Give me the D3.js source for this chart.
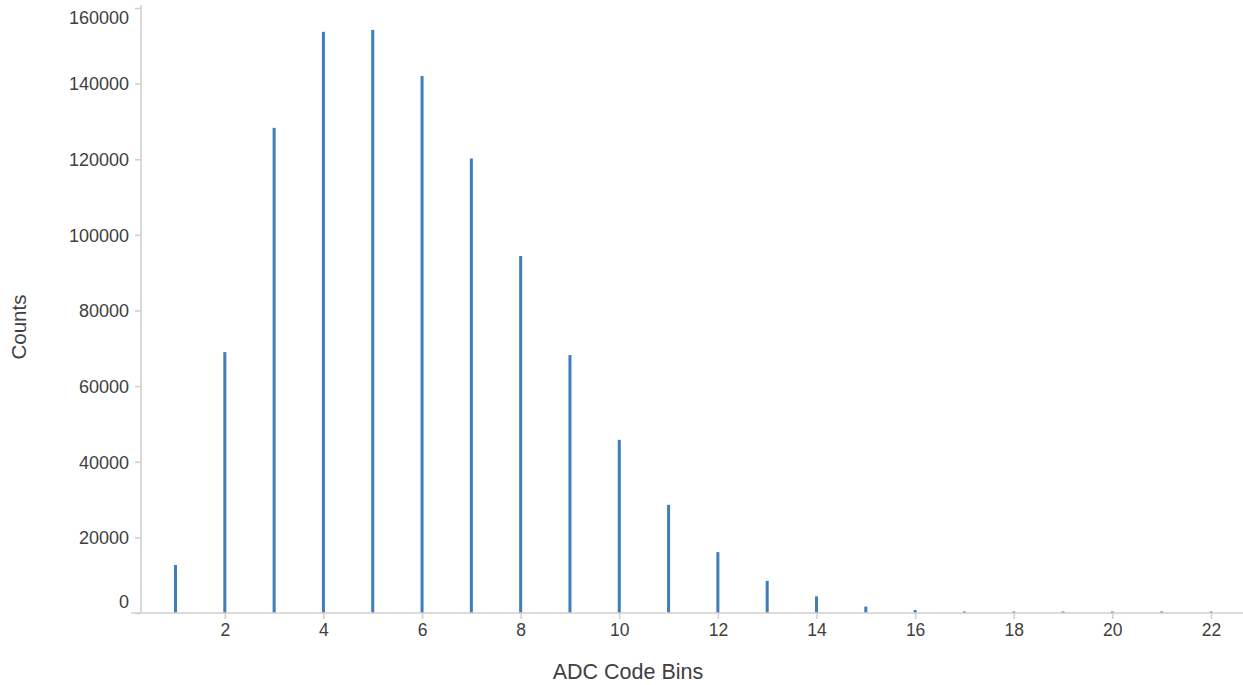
<!DOCTYPE html>
<html>
<head>
<meta charset="utf-8">
<script src="https://cdn.jsdelivr.net/npm/d3@7"></script>
<style>
html,body{margin:0;padding:0;background:#fff;}
svg{display:block;}
text{font-family:"Liberation Sans",Arial,sans-serif;}
</style>
</head>
<body>
<svg id="chart" width="1243" height="685"></svg>
<script>
const bins = [1,2,3,4,5,6,7,8,9,10,11,12,13,14,15,16,17,18,19,20,21,22];
const counts = [12700,69000,128300,153700,154200,142000,120200,94400,68200,45800,28600,16100,8500,4400,1700,800,400,300,300,250,250,200];
const yTicks = [0,20000,40000,60000,80000,100000,120000,140000,160000];
const xTicks = [2,4,6,8,10,12,14,16,18,20,22];
const xTitle = "ADC Code Bins";
const yTitle = "Counts";

(function(){
const svg = d3.select("#chart");
const mLeft = 141, mRight = 1243, mTop = 8, mBottom = 613;
const x = d3.scaleLinear().domain([0.3, 22.65]).range([mLeft, mRight]);
const y = d3.scaleLinear().domain([0, 160000]).range([mBottom, mTop]);
const axisColor = "#cfcfcf", textColor = "#404040";

// bars
svg.append("g").selectAll("rect").data(bins).join("rect")
  .attr("x", d => x(d) - 1.5)
  .attr("width", 3)
  .attr("y", (d,i) => Math.min(y(counts[i]), mBottom - 1.5))
  .attr("height", (d,i) => mBottom - Math.min(y(counts[i]), mBottom - 1.5))
  .attr("fill", "#3f7dbd");

// y axis
const ya = svg.append("g").attr("transform", `translate(${mLeft},0)`)
  .call(d3.axisLeft(y).tickValues(yTicks).tickSize(6).tickPadding(6).tickFormat(d3.format("d")));
ya.select(".domain").attr("stroke", axisColor).attr("stroke-width", 1.5)
  .attr("d", `M0,${mTop-3}V${mBottom}`);
ya.selectAll(".tick line").attr("stroke", axisColor).attr("stroke-width", 1.5);
ya.selectAll(".tick text").attr("fill", textColor).attr("font-size", 18)
  .attr("dy", d => d === 0 ? "-0.3em" : d === 160000 ? "0.85em" : "0.35em");

// x axis
const xa = svg.append("g").attr("transform", `translate(0,${mBottom})`)
  .call(d3.axisBottom(x).tickValues(xTicks).tickSize(6).tickPadding(5));
xa.select(".domain").attr("stroke", axisColor).attr("stroke-width", 1.5)
  .attr("d", `M${mLeft-10},0H${mRight}`);
xa.selectAll(".tick line").attr("stroke", axisColor).attr("stroke-width", 1.5);
xa.selectAll(".tick text").attr("fill", textColor).attr("font-size", 17.5);

// titles
svg.append("text").attr("x", 628).attr("y", 679).attr("text-anchor", "middle")
  .attr("font-size", 21.5).attr("fill", textColor).text(xTitle);
svg.append("text").attr("transform", "translate(26,327) rotate(-90)").attr("text-anchor", "middle")
  .attr("font-size", 20.5).attr("fill", textColor).text(yTitle);
})();
</script>
</body>
</html>
